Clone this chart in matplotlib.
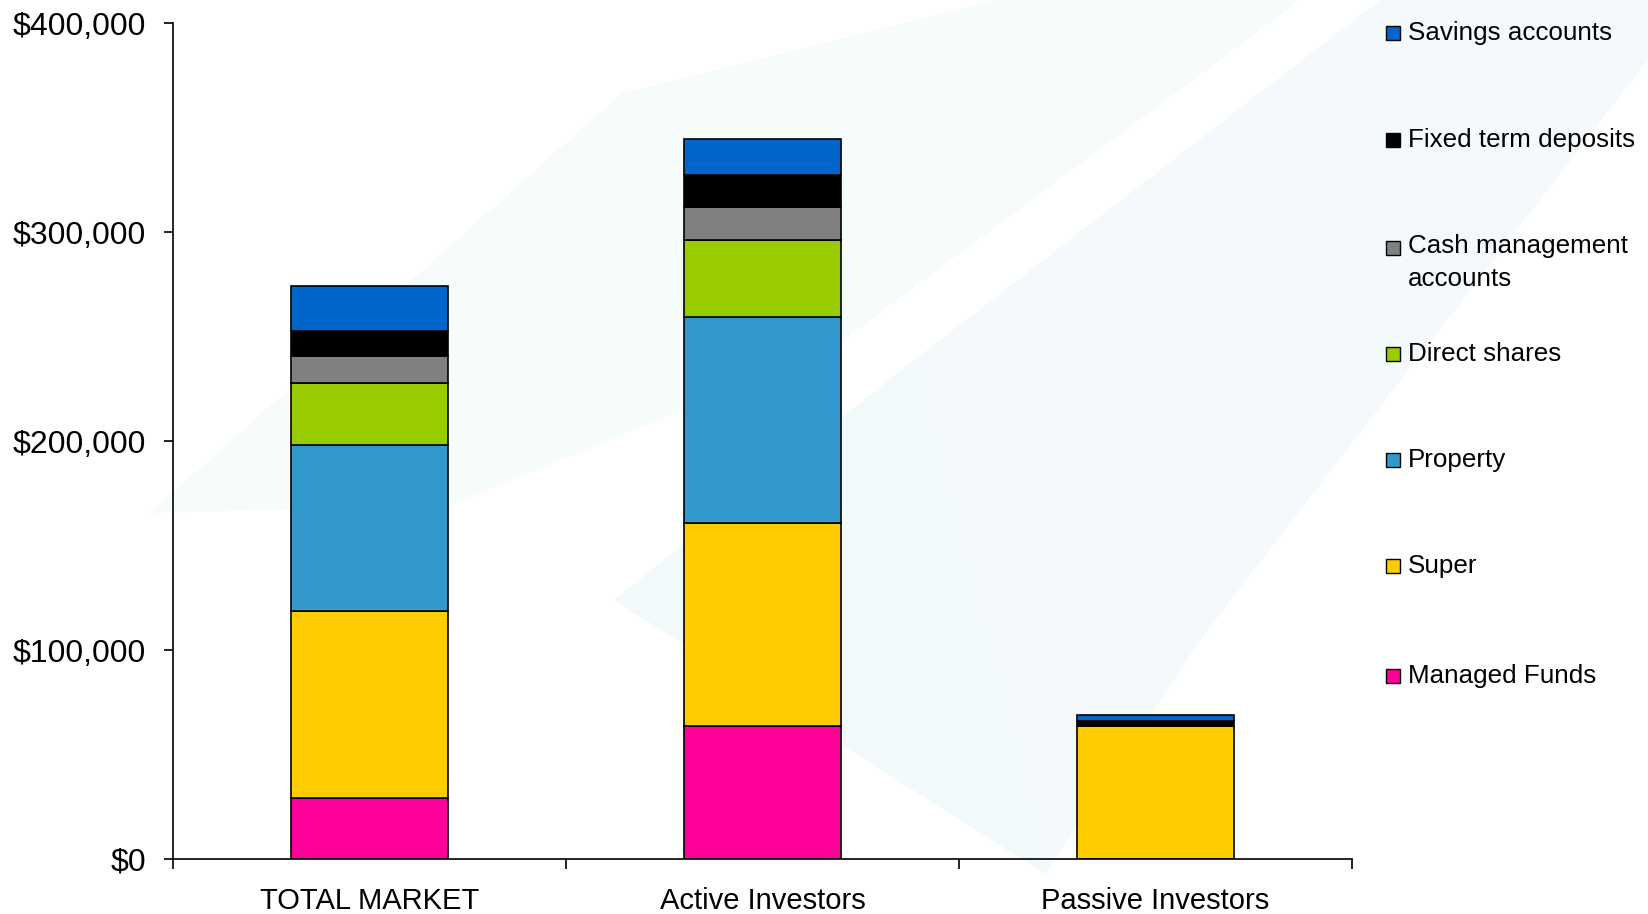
import numpy as np
import matplotlib
matplotlib.use("Agg")
import matplotlib.pyplot as plt
from matplotlib.patches import Polygon, Rectangle
from matplotlib.ticker import FuncFormatter, FixedLocator

plt.rcParams['font.family'] = ['Liberation Sans', 'DejaVu Sans']

# data ($)
groups = ["TOTAL MARKET", "Active Investors", "Passive Investors"]
series = ["Managed Funds", "Super", "Property", "Direct shares",
          "Cash management\naccounts", "Fixed term deposits", "Savings accounts"]
managed_funds = [29000, 63700, 0]
super_fund = [89700, 97300, 63800]
property_vals = [79400, 98500, 0]
direct_shares = [29600, 36800, 0]
cash_mgmt = [13100, 15900, 0]
fixed_term = [12000, 14900, 2400]
savings = [21200, 17300, 2700]
colors = ["#FF0099", "#FFCC00", "#3399CC", "#99CC00", "#808080", "#000000", "#0066CC"]

values = [managed_funds, super_fund, property_vals, direct_shares,
          cash_mgmt, fixed_term, savings]

W, H = 1648, 914
fig = plt.figure(figsize=(W / 100, H / 100), dpi=100)
fig.patch.set_facecolor("white")

# faint watermark shapes in a background axes (pixel coords, y down)
bg = fig.add_axes([0, 0, 1, 1], zorder=-1)
bg.set_xlim(0, W)
bg.set_ylim(H, 0)
bg.axis("off")
wm = [
    ([(150, 513), (622, 93), (1000, 0), (1300, 0), (830, 350), (450, 505)], "#f6fbfc"),
    ([(1380, 0), (1648, 0), (1648, 60), (1200, 640), (1045, 874), (913, 361)], "#f4fafb"),
    ([(614, 600), (913, 361), (1045, 874)], "#f1f9fa"),
]
for pts, c in wm:
    bg.add_patch(Polygon(pts, closed=True, facecolor=c, edgecolor="none"))

ax = fig.add_axes([173 / W, 1 - 859 / H, (1352 - 173) / W, (859 - 23) / H])
ax.set_facecolor("none")

x = np.arange(len(groups))
bottom = np.zeros(len(groups))
for name, vals, c in zip(series, values, colors):
    ax.bar(x, vals, width=0.4, bottom=bottom, color=c, edgecolor="black",
           linewidth=1.2, label=name, zorder=2)
    bottom += np.array(vals)

ax.set_xlim(-0.5, 2.5)
ax.set_ylim(0, 400000)
ax.set_yticks(np.arange(0, 400001, 100000))
ax.yaxis.set_major_formatter(FuncFormatter(lambda v, p: "${:,.0f}".format(v)))
ax.set_xticks(x)
ax.set_xticklabels(groups)
ax.xaxis.set_minor_locator(FixedLocator([-0.5, 0.5, 1.5, 2.5]))
ax.tick_params(axis="x", which="major", length=0, pad=20, labelsize=21)
ax.tick_params(axis="x", which="minor", length=7, width=1.2, direction="out")
ax.tick_params(axis="y", length=6.5, width=1.2, pad=13, labelsize=23)
for sp in ["top", "right"]:
    ax.spines[sp].set_visible(False)
for sp in ["left", "bottom"]:
    ax.spines[sp].set_linewidth(1.2)

# legend, top item = last series
ys = [33, 140, 248, 354, 460, 566, 676]
for yy, name, c in zip(ys, series[::-1], colors[::-1]):
    fig.patches.append(Rectangle((1386 / W, 1 - (yy + 7) / H), 14 / W, 14 / H,
                                 transform=fig.transFigure, facecolor=c,
                                 edgecolor="black", linewidth=1.0, zorder=3))
    if "\n" in name:
        fig.text(1408 / W, 1 - (yy - 14) / H, name, fontsize=18.7, va="top",
                 ha="left", linespacing=1.45)
    else:
        fig.text(1408 / W, 1 - yy / H, name, fontsize=18.7, va="center", ha="left")

fig.savefig("out.png", dpi=100)
